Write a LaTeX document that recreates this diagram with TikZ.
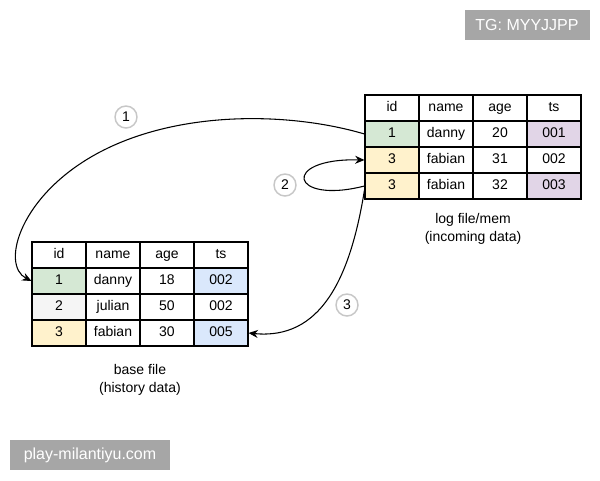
\documentclass[tikz,border=0pt]{standalone}
\usepackage{fontspec}
\setmainfont{Liberation Sans}
\usetikzlibrary{arrows.meta,calc}
\definecolor{idgreen}{HTML}{D5E8D4}
\definecolor{idyellow}{HTML}{FFF2CC}
\definecolor{idgray}{HTML}{F5F5F5}
\definecolor{tspurple}{HTML}{E1D5E7}
\definecolor{tsblue}{HTML}{DAE8FC}
\definecolor{wmgray}{HTML}{A6A6A6}
\tikzset{
  cell/.style={draw,line width=0.8pt,minimum width=40.5pt,minimum height=19.5pt,
    inner sep=0pt,text height=7.6pt,text depth=2.2pt,font=\fontsize{10.5}{12}\selectfont},
  stepnum/.style={circle,draw=black!22,line width=1.1pt,fill=white,minimum size=16.5pt,
    inner sep=0pt,font=\fontsize{10.5}{12}\selectfont},
  flow/.style={line width=0.8pt,-{Stealth[length=7pt,width=6pt]}},
  caption/.style={align=center,font=\fontsize{10.5}{13.5}\selectfont},
  wmark/.style={fill=wmgray,text=white,minimum height=22.5pt,inner sep=0pt,
    font=\fontsize{12}{14}\selectfont},
}

\begin{document}
\begin{tikzpicture}[x=0.75pt,y=-0.75pt]
	\useasboundingbox (0,0) rectangle (600,480);

	% log file / mem
	\foreach \t [count=\c] in {id,name,age,ts}
		\node[cell] (r0\c) at (338+54*\c,108) {\t};
	\foreach \a/\b/\g/\s/\fa/\fs [count=\r] in
		{1/danny/20/001/idgreen/tspurple, 3/fabian/31/002/idyellow/white, 3/fabian/32/003/idyellow/tspurple}
	{
		\node[cell,fill=\fa] (r\r1) at (392,108+26*\r) {\a};
		\node[cell] (r\r2) at (446,108+26*\r) {\b};
		\node[cell] (r\r3) at (500,108+26*\r) {\g};
		\node[cell,fill=\fs] (r\r4) at (554,108+26*\r) {\s};
	}
	\node[caption] (loglabel) at (473,229) {log file/mem\\(incoming data)};

	% base file
	\foreach \t [count=\c] in {id,name,age,ts}
		\node[cell] (b0\c) at (5+54*\c,255) {\t};
	\foreach \a/\b/\g/\s/\fa/\fs [count=\r] in
		{1/danny/18/002/idgreen/tsblue, 2/julian/50/002/idgray/white, 3/fabian/30/005/idyellow/tsblue}
	{
		\node[cell,fill=\fa] (b\r1) at (59,255+26*\r) {\a};
		\node[cell] (b\r2) at (113,255+26*\r) {\b};
		\node[cell] (b\r3) at (167,255+26*\r) {\g};
		\node[cell,fill=\fs] (b\r4) at (221,255+26*\r) {\s};
	}
	\node[caption] (baselabel) at (140,380) {base file\\(history data)};

	% steps
	\draw[flow] (r11.west) .. controls (290,112) and (180,110) .. (100,152)
		.. controls (20,194) and (0,265) .. (b11.west);
	\draw[flow] (r31.west) .. controls (290,205) and (280,158) .. (r21.west);
	\draw[flow] ([yshift=-3pt]r31.west) .. controls (350,280) and (320,340) .. (b34.east);

	\node[stepnum] (s1) at (126,117) {1};
	\node[stepnum] (s2) at (285,185) {2};
	\node[stepnum] (s3) at (347,305) {3};

	\node[wmark,minimum width=93.75pt] (tg) at (527,25) {TG: MYYJJPP};
	\node[wmark,minimum width=120pt] (site) at (90,455) {play-milantiyu.com};
\end{tikzpicture}
\end{document}
